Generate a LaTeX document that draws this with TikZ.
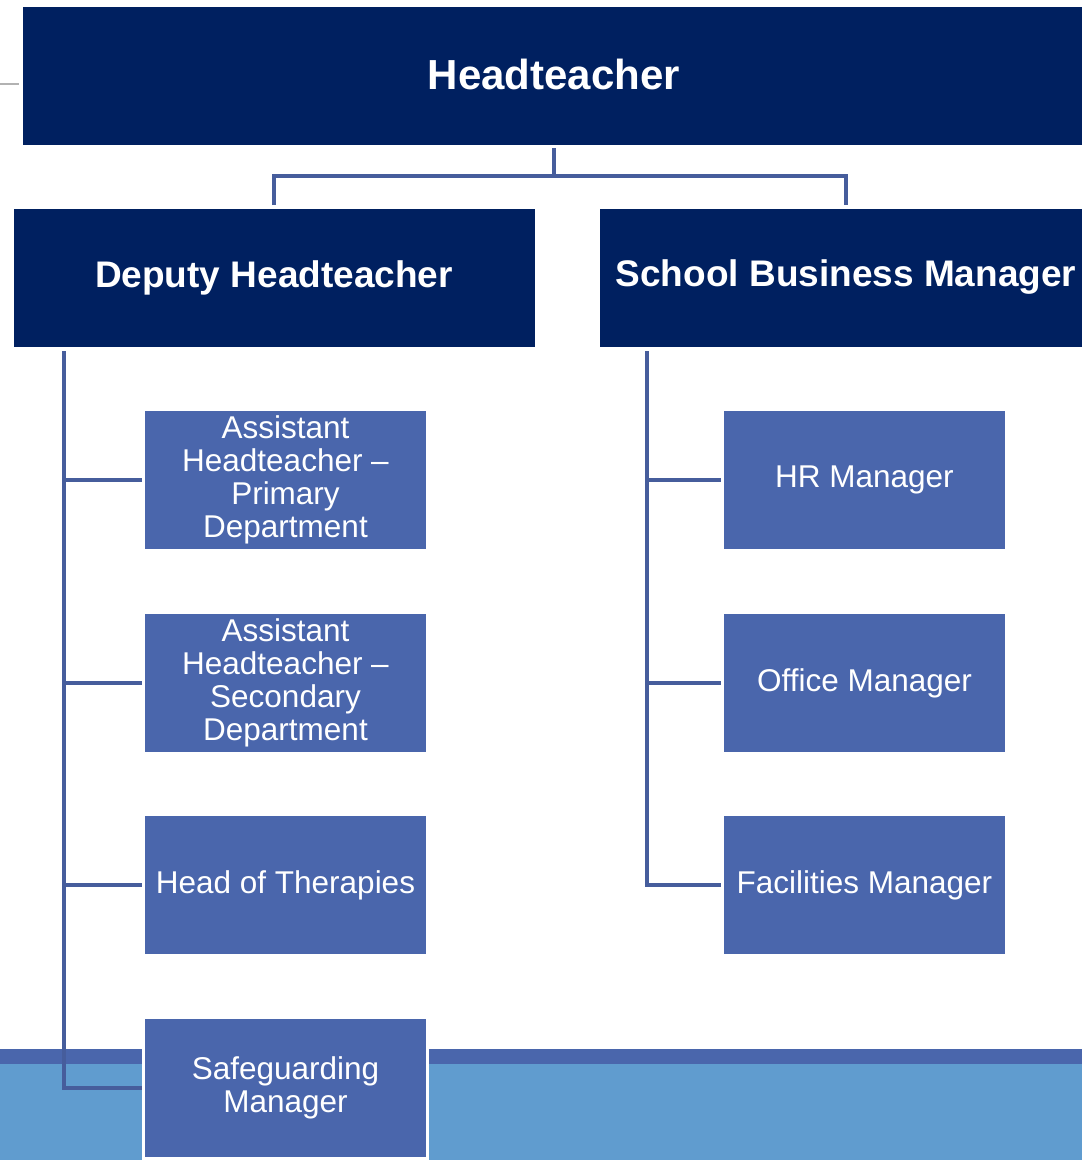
\documentclass[tikz,border=0pt]{standalone}
\usepackage{fontspec}
\setmainfont{Liberation Sans}
\definecolor{navy}{HTML}{002060}
\definecolor{boxblue}{HTML}{4A66AC}
\definecolor{linec}{HTML}{465D9C}
\definecolor{lightband}{HTML}{609CCF}
\pgfdeclarelayer{band}
\pgfdeclarelayer{background}
\pgfsetlayers{band,background,main}
\tikzset{
  bigbox/.style={anchor=north west, fill=navy, draw=white, line width=1pt, inner sep=0pt, outer sep=0pt,
    text=white, font=\fontsize{37}{40}\selectfont\bfseries, minimum height=139pt},
  smallbox/.style={anchor=north west, fill=boxblue, draw=white, line width=3pt, inner sep=0pt, outer sep=0pt,
    text=white, align=center, font=\fontsize{31.5}{33}\selectfont,
    minimum width=284pt, minimum height=141pt, yshift=1.5pt}
}
\tikzset{conn/.style={draw=linec, line width=3.4pt}}
\begin{document}
\begin{tikzpicture}[x=1pt,y=-1pt]
\useasboundingbox (0,0) rectangle (1082,1160);
% bottom band
\begin{pgfonlayer}{band}
\fill[boxblue] (0,1049) rectangle (1082,1064);
\fill[lightband] (0,1064) rectangle (1082,1160);
\end{pgfonlayer}
\draw[gray!60, line width=1.5pt] (0,84) -- (19,84);
% nodes
\node[bigbox, minimum width=1064pt, font=\fontsize{42}{45}\selectfont\bfseries] (head) at (22,6) {\raisebox{2pt}{Headteacher}};
\node[bigbox, minimum width=522pt] (dep) at (13,208) {\raisebox{-2pt}{Deputy Headteacher}};
\node[bigbox, minimum width=494pt] (sbm) at (599,208) {\raisebox{-2pt}{School Business Manager}};
\node[smallbox] (ah1) at (143.5,411) {Assistant\\Headteacher –\\Primary\\Department};
\node[smallbox] (ah2) at (143.5,614) {Assistant\\Headteacher –\\Secondary\\Department};
\node[smallbox] (hot) at (143.5,816) {Head of Therapies};
\node[smallbox] (sg) at (143.5,1019) {Safeguarding\\Manager};
\node[smallbox] (hr) at (722.5,411) {HR Manager};
\node[smallbox] (om) at (722.5,614) {Office Manager};
\node[smallbox] (fm) at (722.5,816) {Facilities Manager};
% connectors
\begin{pgfonlayer}{background}
\draw[conn] ([yshift=-3pt]head.south) -- ++(0,28) coordinate (tj);
\draw[conn] ([yshift=3pt]dep.north) |- (tj) -| ([yshift=3pt]sbm.north);
\coordinate (ls) at ([xshift=51pt,yshift=-4pt]dep.south west);
\draw[conn] (ls) |- (sg.west);
\foreach \n in {ah1,ah2,hot} \draw[conn] (ls |- \n.west) -- (\n.west);
\coordinate (rs) at ([xshift=48pt,yshift=-4pt]sbm.south west);
\draw[conn] (rs) |- (fm.west);
\foreach \n in {hr,om} \draw[conn] (rs |- \n.west) -- (\n.west);
\end{pgfonlayer}
\end{tikzpicture}
\end{document}
